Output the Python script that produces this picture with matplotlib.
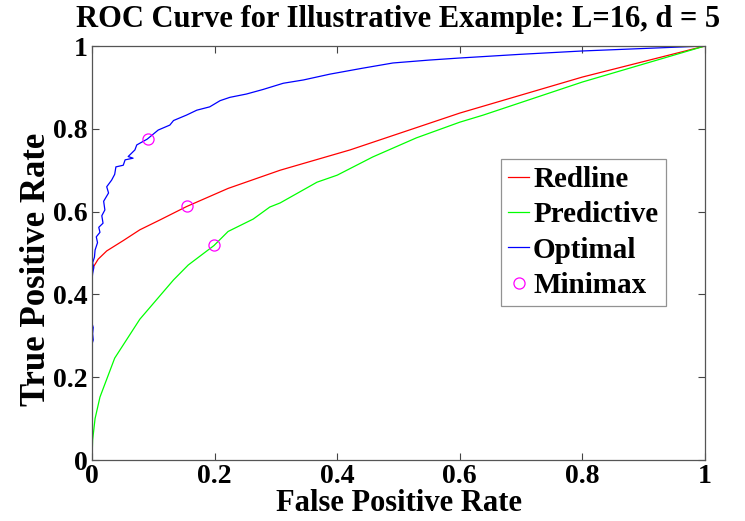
import matplotlib
matplotlib.use("Agg")
import matplotlib.pyplot as plt

opt_x = [0.0, 0.0, 0.002, 0.001, 0.002, 0.0, 0.0, 0.001, 0.003, 0.001, 0.004, 0.005, 0.009, 0.007, 0.013,
         0.011, 0.018, 0.016, 0.021, 0.019, 0.027, 0.024, 0.032, 0.037, 0.039, 0.051, 0.054, 0.067, 0.059, 0.070,
         0.073, 0.090, 0.108, 0.127, 0.133, 0.154, 0.171, 0.192, 0.209, 0.225, 0.252, 0.279, 0.312, 0.345,
         0.388, 0.440, 0.491, 0.550, 0.600, 0.700, 0.800, 0.900, 1.0]
opt_y = [0.0, 0.28, 0.29, 0.305, 0.32, 0.33, 0.435, 0.45, 0.465, 0.476, 0.49, 0.507, 0.525, 0.539, 0.55,
         0.562, 0.572, 0.59, 0.604, 0.625, 0.645, 0.660, 0.676, 0.690, 0.708, 0.712, 0.725, 0.729, 0.733, 0.749,
         0.761, 0.775, 0.797, 0.809, 0.820, 0.833, 0.845, 0.853, 0.868, 0.876, 0.884, 0.895, 0.910, 0.918,
         0.932, 0.946, 0.959, 0.966, 0.971, 0.980, 0.988, 0.994, 1.0]

red_x = [0.0, 0.001, 0.010, 0.024, 0.051, 0.078, 0.111, 0.154, 0.222, 0.307, 0.421, 0.600, 0.800, 1.0]
red_y = [0.455, 0.463, 0.485, 0.505, 0.530, 0.556, 0.580, 0.612, 0.656, 0.700, 0.749, 0.838, 0.925, 1.0]

pred_x = [0.0, 0.001, 0.005, 0.013, 0.037, 0.078, 0.133, 0.157, 0.199, 0.222, 0.263, 0.290, 0.307, 0.367,
          0.400, 0.458, 0.529, 0.600, 0.638, 0.800, 1.0]
pred_y = [0.0, 0.048, 0.100, 0.152, 0.246, 0.340, 0.435, 0.471, 0.518, 0.552, 0.582, 0.611, 0.621, 0.671,
          0.688, 0.732, 0.778, 0.816, 0.833, 0.913, 1.0]

mm_x = [0.091, 0.155, 0.199]
mm_y = [0.775, 0.613, 0.519]

ticks = [0, 0.2, 0.4, 0.6, 0.8, 1]
tick_labels = ["0", "0.2", "0.4", "0.6", "0.8", "1"]

plt.rcParams['font.family'] = ['Liberation Serif', 'DejaVu Serif']
plt.rcParams['font.weight'] = 'bold'

fig = plt.figure(figsize=(7.45, 5.21), dpi=100)
ax = fig.add_axes([92/745, 1-460/521, 613/745, 414/521])

ax.plot(red_x, red_y, color='#ff0000', lw=0.9, label='Redline')
ax.plot(pred_x, pred_y, color='#00ff00', lw=0.9, label='Predictive')
ax.plot(opt_x, opt_y, color='#0000ff', lw=0.9, label='Optimal')
ax.plot(mm_x, mm_y, 'o', mfc='none', mec='#ff00ff', ms=8, mew=0.9, label='Minimax')

ax.set_xlim(0, 1)
ax.set_ylim(0, 1)
ax.set_xticks(ticks)
ax.set_xticklabels(tick_labels)
ax.set_yticks(ticks)
ax.set_yticklabels(tick_labels)
ax.tick_params(direction='in', top=True, right=True, labelsize=20, length=5, width=0.8,
               color='#444444', pad=3)
for lab in ax.get_xticklabels() + ax.get_yticklabels():
    lab.set_fontweight('bold')
for s in ax.spines.values():
    s.set_color('#555555')
    s.set_linewidth(0.9)

ax.set_title('ROC Curve for Illustrative Example: L=16, d = 5', fontsize=22, fontweight='bold', pad=14)
ax.set_xlabel('False Positive Rate', fontsize=22, fontweight='bold', labelpad=0)
ax.set_ylabel('True Positive Rate', fontsize=25, fontweight='bold', labelpad=0)
ax.yaxis.label.set_y(0.46)

leg = ax.legend(loc='upper left', bbox_to_anchor=((501-92)/613, (460-159)/414), fontsize=21,
                frameon=True, fancybox=False, edgecolor='#777777', handlelength=0.7,
                handletextpad=0.15, borderpad=0.25, labelspacing=0.28, borderaxespad=0)
leg.get_frame().set_linewidth(0.9)
for t in leg.get_texts():
    t.set_fontweight('bold')

fig.savefig('out.png', dpi=100)
